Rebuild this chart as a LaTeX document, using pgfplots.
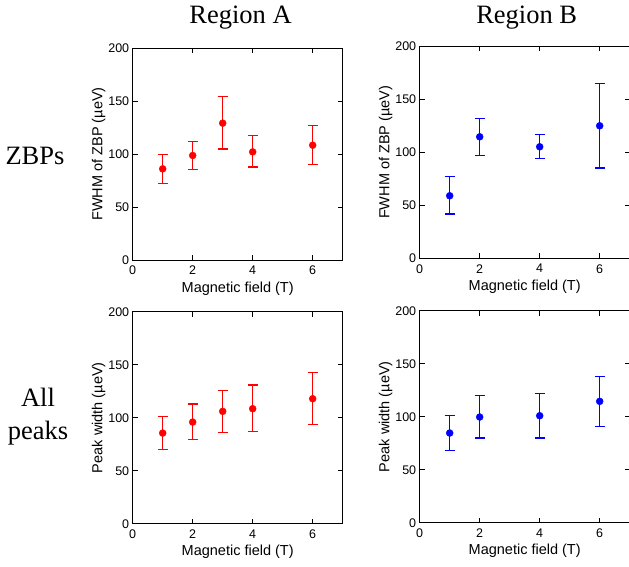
\documentclass[border=0pt]{standalone}
\usepackage{pgfplots}
\pgfplotsset{compat=1.18}
\usepackage{pgfplotstable}
\usepackage{fontspec}
\setmainfont{Liberation Sans}
\newfontfamily\titlefont{Liberation Serif}

% FWHM of ZBP, region A
\pgfplotstableread{
x y ep em
1 86.0 13.8 13.6
2 98.6 12.9 12.9
3 129.1 24.9 24.5
4 102.0 15.5 14.4
6 108.3 18.7 18.5
}\zbpA
% FWHM of ZBP, region B
\pgfplotstableread{
x y ep em
1 59.0 17.9 17.2
2 114.6 17.0 17.6
4 105.2 11.6 11.0
6 125.0 40.1 39.9
}\zbpB
% all peaks, region A
\pgfplotstableread{
x y ep em
1 85.5 15.5 15.7
2 95.9 17.0 16.7
3 106.0 19.8 19.8
4 108.5 22.3 21.7
6 117.9 24.6 24.2
}\allA
% all peaks, region B
\pgfplotstableread{
x y ep em
1 84.6 16.7 16.7
2 99.7 20.1 19.8
4 100.9 21.1 21.0
6 114.5 23.5 23.6
}\allB

\pgfplotsset{
  panel/.style={
    scale only axis, width=210pt, height=212pt,
    anchor=south west,
    xmin=0, xmax=7, ymin=0, ymax=200,
    xtick={0,2,4,6}, ytick={0,50,100,150,200},
    tick align=inside, tick pos=both,
    major tick length=5pt,
    axis line style={line width=1pt},
    every tick/.style={black, line width=0.9pt},
    ticklabel style={font=\fontsize{12.5}{14}\selectfont},
    /pgf/number format/assume math mode=true,
    xticklabel style={yshift=-2.5pt},
    every axis x label/.style={at={(axis description cs:0.5,-0.151)}, anchor=base,
      font=\fontsize{14.5}{17}\selectfont},
    every axis y label/.style={at={(axis description cs:-0.144,0.5)}, rotate=90, anchor=base,
      font=\fontsize{14.5}{17}\selectfont},
    xlabel={Magnetic field (T)},
  },
}
\newcommand{\pts}[2]{%
  \addplot[#1, only marks, mark=*, mark size=3.5pt,
    error bars/.cd, y dir=both, y explicit,
    error bar style={#1, line width=1.3pt},
    error mark options={rotate=90, #1, mark size=5pt, line width=1.3pt}]
    table[x=x, y=y, y error plus=ep, y error minus=em] {#2};}

\begin{document}
\begin{tikzpicture}
\useasboundingbox (0,0) rectangle (629pt,566pt);

\node[font=\titlefont\fontsize{26.5}{30}\selectfont, anchor=base] at (240.5pt,542.7pt) {Region A};
\node[font=\titlefont\fontsize{26.5}{30}\selectfont, anchor=base] at (526.7pt,542.7pt) {Region B};
\node[font=\titlefont\fontsize{26.5}{30}\selectfont, anchor=base] at (35pt,401pt) {ZBPs};
\node[font=\titlefont\fontsize{26.5}{30}\selectfont, anchor=base] at (38pt,159.3pt) {All};
\node[font=\titlefont\fontsize{26.5}{30}\selectfont, anchor=base] at (38pt,127pt) {peaks};

\begin{axis}[panel, at={(132.7pt,306pt)}, ylabel={FWHM of ZBP (µeV)}]
\pts{red}{\zbpA}
\end{axis}

\begin{axis}[panel, at={(419.7pt,307.7pt)}, ylabel={FWHM of ZBP (µeV)}]
\pts{blue}{\zbpB}
\end{axis}

\begin{axis}[panel, at={(132.7pt,42.3pt)}, ylabel={Peak width (µeV)}]
\pts{red}{\allA}
\end{axis}

\begin{axis}[panel, at={(419.7pt,43.3pt)}, ylabel={Peak width (µeV)}]
\pts{blue}{\allB}
\end{axis}
\end{tikzpicture}
\end{document}
